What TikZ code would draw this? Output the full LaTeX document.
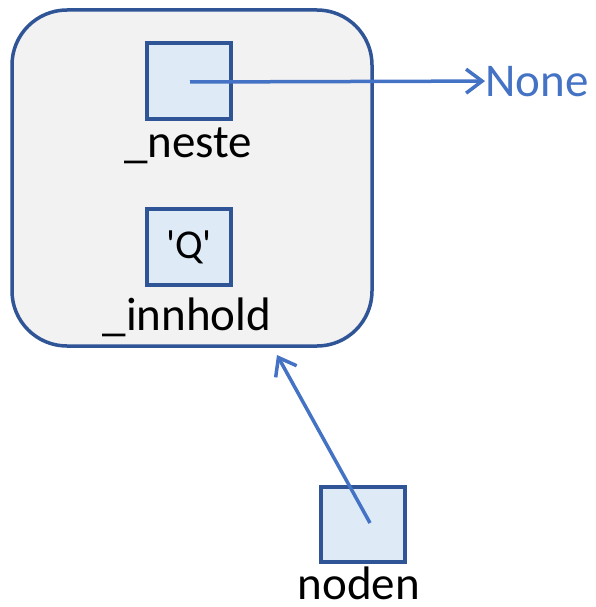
\documentclass[tikz,border=0pt]{standalone}
\usepackage{fontspec}
\setmainfont{Carlito}
\usetikzlibrary{arrows.meta}
\definecolor{boxline}{HTML}{2F5597}
\definecolor{boxfill}{HTML}{DEEBF7}
\definecolor{outerfill}{HTML}{F2F2F2}
\definecolor{arrowc}{HTML}{4472C4}
\tikzset{
  cell/.style={draw=boxline, fill=boxfill, line width=3.5pt},
  lbl/.style={font=\fontsize{47}{50}\selectfont, anchor=base, inner sep=0pt},
  ptr/.style={draw=arrowc, line width=3.5pt, -{Straight Barb[length=16pt,width=24pt,line width=3.5pt]}},
}
\begin{document}
\begin{tikzpicture}[x=1pt,y=-1pt]
\useasboundingbox (0,0) rectangle (595,607);
\draw[draw=boxline, fill=outerfill, line width=3.5pt, rounded corners=55pt] (12,10) rectangle (372,346);
\node[cell, minimum width=84pt, minimum height=76pt, inner sep=0pt] (neste) at (189,81) {};
\node[cell, minimum width=84pt, minimum height=76pt, inner sep=0pt, font=\fontsize{41}{44}\selectfont] (innhold) at (189,247) {\textquotesingle Q\textquotesingle};
\node[cell, minimum width=84pt, minimum height=75pt, inner sep=0pt] (noden) at (363,524.5) {};
\node[lbl] (nestelbl) at (188,157) {\_neste};
\node[lbl] (innholdlbl) at (187,330) {\_innhold};
\node[lbl] (nodenlbl) at (359,599) {noden};
\node[lbl, anchor=base west, text=arrowc] (none) at (485,96) {None};
\coordinate (nestec) at (190,82);
\coordinate (nodenc) at (370,523);
\coordinate (outerbot) at (277,355);
\draw[ptr] (nestec) -- (none.west);
\draw[ptr] (nodenc) -- (outerbot);
\end{tikzpicture}
\end{document}
